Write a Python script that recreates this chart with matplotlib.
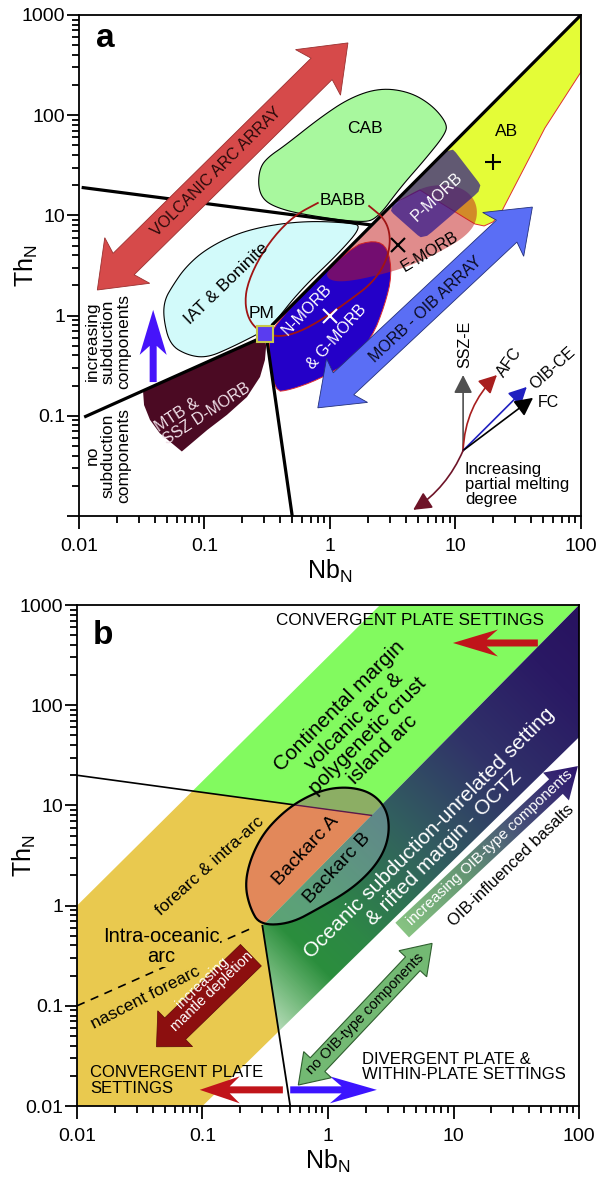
import numpy as np
import matplotlib
matplotlib.use("Agg")
import matplotlib.pyplot as plt
from matplotlib.patches import Polygon, FancyArrowPatch
from matplotlib.ticker import NullFormatter, LogLocator

plt.rcParams['font.family'] = ['Liberation Sans', 'DejaVu Sans']
plt.rcParams['mathtext.fontset'] = 'custom'
plt.rcParams['mathtext.rm'] = 'Liberation Sans'
plt.rcParams['mathtext.default'] = 'regular'

ticks = [0.01, 0.1, 1, 10, 100, 1000]
tick_labels = ['0.01', '0.1', '1', '10', '100', '1000']

# ---- panel a : lines and fields, all as (Nb_N, Th_N)
a_line_low = [(0.011, 0.097), (0.30, 0.62)]
a_line_up = [(0.345, 0.80), (100, 1000)]
a_line_steep = [(0.315, 0.56), (0.50, 0.01)]
a_line_flat = [(0.0105, 19), (2.16, 8.0)]
pm = (0.303, 0.655)

cab = [(0.267, 20), (0.277, 30), (0.32, 38), (0.44, 50), (0.83, 94), (1.44, 149),
       (2.5, 187), (4.3, 171), (6.5, 126), (8.5, 84), (8.4, 66), (5.7, 36),
       (3.6, 18.7), (2.4, 9.4), (1.8, 8.4), (0.58, 10.3), (0.365, 12.1), (0.29, 14.6)]
iat = [(0.047, 0.95), (0.048, 1.43), (0.056, 2.0), (0.070, 3.0), (0.10, 4.5),
       (0.175, 6.5), (0.33, 8.0), (0.69, 8.8), (1.44, 8.4), (1.8, 7.8), (1.2, 4.3),
       (0.58, 1.8), (0.345, 0.79), (0.27, 0.66), (0.16, 0.475), (0.105, 0.38),
       (0.074, 0.40), (0.053, 0.51)]
mtb = [(0.0324, 0.175), (0.30, 0.62), (0.31, 0.50), (0.303, 0.36), (0.277, 0.244),
       (0.218, 0.154), (0.151, 0.102), (0.105, 0.072), (0.066, 0.044), (0.044, 0.067),
       (0.0368, 0.091), (0.033, 0.128)]
nmorb = [(0.352, 0.806), (1.44, 4.84), (2.28, 5.68), (2.9, 4.73), (3.12, 2.54),
         (2.74, 1.28), (2.16, 0.60), (1.44, 0.344), (0.80, 0.228), (0.48, 0.181),
         (0.36, 0.173), (0.321, 0.509)]
emorb = [(0.929, 2.85), (2.74, 10.8), (5.02, 18.7), (8.24, 20.6), (11.9, 18.3),
         (14.8, 13.3), (14.8, 8.6), (11.9, 6.08), (7.52, 4.32), (4.34, 3.13),
         (2.5, 2.54), (1.32, 2.16), (0.964, 2.26)]
pmorb = [(2.9, 11.6), (9.2, 49), (16.6, 18.7), (5.5, 5.7)]
ab = [(100, 1000), (100, 270), (51.6, 74.5), (24.8, 12.7), (22.6, 10.1), (19.9, 8.6),
      (16.9, 7.84), (14.3, 8.2), (11.9, 9.42), (5.21, 17.9), (3.2, 13.1)]
babb = [(0.80, 13.3), (0.53, 10.1), (0.365, 6.4), (0.267, 3.6), (0.218, 2.0),
        (0.21, 1.28), (0.23, 0.86), (0.287, 0.67), (0.40, 0.61), (0.58, 0.69),
        (0.91, 0.95), (1.44, 1.43), (2.16, 2.1), (2.8, 3.4), (3.06, 5.7), (2.79, 9.0),
        (2.05, 12.4)]
ab_mean = (20, 34)
emorb_mean = (3.5, 5.1)
nmorb_mean = (1.0, 1.0)

volcanic_arrow = [(0.014, 1.8), (1.39, 526)]
morb_oib_arrow = [(0.80, 0.12), (41, 12.1)]
subduction_arrow = [(0.039, 0.217), (0.039, 1.14)]

vec_origin = (11.5, 0.045)
vec_ends = {'SSZ-E': (11.5, 0.255), 'AFC': (21.4, 0.255), 'OIB-CE': (37, 0.194),
            'FC': (41.5, 0.151), 'melt': (4.6, 0.0115)}

# ---- panel b : boundaries, all as (Nb_N, Th_N)
b_edge_up = [(0.01, 1.0), (2.6, 1000)]
b_edge_low = [(0.1, 0.01), (100, 48)]
b_diag = [(0.30, 0.63), (100, 1000)]
b_flat = [(0.01, 20), (2.21, 7.96)]
b_steep = [(0.30, 0.63), (0.50, 0.01)]
b_dash = [(0.01, 0.10), (0.25, 0.60)]
backarc = [(0.287, 0.64), (0.239, 0.95), (0.218, 1.6), (0.239, 2.85), (0.30, 5.1),
           (0.415, 8.0), (0.60, 11.3), (0.95, 14.6), (1.5, 15.3), (2.24, 13.3),
           (2.9, 9.4), (3.1, 5.9), (2.85, 3.6), (2.24, 2.26), (1.5, 1.43),
           (0.86, 0.95), (0.50, 0.66)]

top_red_arrow = [(47, 418), (9.9, 418)]
bot_red_arrow = [(0.437, 0.0145), (0.095, 0.0145)]
bot_blue_arrow = [(0.50, 0.0145), (2.45, 0.0145)]
depletion_arrow = [(0.243, 0.32), (0.043, 0.039)]
no_oib_arrow = [(0.58, 0.0162), (6.75, 0.42)]
oib_arrow = [(3.9, 0.57), (98, 24.7)]


def smooth(pts, n=3, cut=0.25, closed=True):
    p = np.log10(np.asarray(pts, float))
    for _ in range(n):
        if closed:
            q = np.roll(p, -1, axis=0)
            pp = p
        else:
            q = p[1:]
            pp = p[:-1]
        r = np.empty((2 * len(pp), 2))
        r[0::2] = (1 - cut) * pp + cut * q
        r[1::2] = cut * pp + (1 - cut) * q
        if not closed:
            r = np.vstack([p[0], r, p[-1]])
        p = r
    return 10 ** p


def cross(l1, l2):
    (x1, y1), (x2, y2) = np.log10(l1)
    (x3, y3), (x4, y4) = np.log10(l2)
    d = (x1 - x2) * (y3 - y4) - (y1 - y2) * (x3 - x4)
    t = ((x1 - x3) * (y3 - y4) - (y1 - y3) * (x3 - x4)) / d
    return (10 ** (x1 + t * (x2 - x1)), 10 ** (y1 + t * (y2 - y1)))


def arrow(ax, tail, tip, width, head_width, head_len, notch=0.0, double=False, **kw):
    # fat arrow built in pixels so it is not bent by the log axes
    p0 = ax.transData.transform(tail)
    p1 = ax.transData.transform(tip)
    d = p1 - p0
    u = d / np.hypot(*d)
    n = np.array([-u[1], u[0]])
    w, hw = width / 2, head_width / 2
    c1, j1 = p1 - u * head_len, p1 - u * head_len * (1 - notch)
    if double:
        c0, j0 = p0 + u * head_len, p0 + u * head_len * (1 - notch)
        pts = [p0, c0 + n * hw, j0 + n * w, j1 + n * w, c1 + n * hw, p1,
               c1 - n * hw, j1 - n * w, j0 - n * w, c0 - n * hw]
    else:
        pts = [p0 + n * w, j1 + n * w, c1 + n * hw, p1, c1 - n * hw, j1 - n * w, p0 - n * w]
    pts = ax.transAxes.inverted().transform(np.array(pts))
    patch = Polygon(pts, closed=True, transform=ax.transAxes, **kw)
    ax.add_patch(patch)
    return patch


def vec(ax, start, end, color, rad=0.0):
    ax.add_patch(FancyArrowPatch(start, end, connectionstyle="arc3,rad=%s" % rad,
                                 arrowstyle="-|>,head_length=0.55,head_width=0.28",
                                 mutation_scale=20, color=color, lw=1.2,
                                 shrinkA=0, shrinkB=0, zorder=5))


def gradient(pos, cols, t):
    cols = np.asarray(cols, float) / 255
    return np.dstack([np.interp(t, pos, cols[:, i]) for i in range(3)])


def setup(ax, ylabels):
    ax.set_xscale('log')
    ax.set_yscale('log')
    ax.set_xlim(0.01, 100)
    ax.set_ylim(0.01, 1000)
    ax.set_xticks(ticks[:5], labels=tick_labels[:5])
    ax.set_yticks(ticks, labels=ylabels)
    ax.xaxis.set_minor_locator(LogLocator(10, subs=np.arange(2, 10), numticks=50))
    ax.yaxis.set_minor_locator(LogLocator(10, subs=np.arange(2, 10), numticks=50))
    ax.xaxis.set_minor_formatter(NullFormatter())
    ax.yaxis.set_minor_formatter(NullFormatter())
    ax.tick_params(which='both', direction='out', width=1.3, top=False, right=False)
    ax.tick_params(which='major', length=9, labelsize=14)
    ax.tick_params(which='minor', length=5)
    ax.tick_params(axis='y', pad=1)
    ax.tick_params(axis='x', pad=7)
    for s in ax.spines.values():
        s.set_linewidth(1.3)
    ax.text(0.5, -0.11, 'Nb$_{N}$', transform=ax.transAxes, fontsize=18,
            ha='center', va='center')
    ax.text(-0.104, 0.5, 'Th$_{N}$', transform=ax.transAxes, fontsize=18,
            ha='center', va='center', rotation=90)


fig = plt.figure(figsize=(6.02, 11.78), dpi=100)
ax_a = fig.add_axes([0.1312, 0.5620, 0.8339, 0.4253])
ax_b = fig.add_axes([0.1279, 0.0611, 0.8339, 0.4253])
setup(ax_a, [''] + tick_labels[1:])
setup(ax_b, tick_labels)

# ================= panel a =================
ax = ax_a
ax.add_patch(Polygon(ab, closed=True, fc='#e4fc37', ec='#e03030', lw=0.7, zorder=1))
ax.add_patch(Polygon(smooth(cab), closed=True, fc='#a8f89e', ec='k', lw=0.8, zorder=1))
ax.add_patch(Polygon(smooth(iat), closed=True, fc='#d2fafa', ec='k', lw=0.8, zorder=1))
ax.add_patch(Polygon(mtb, closed=True, fc='#4b0a23', ec='none', zorder=1))
ax.add_patch(Polygon(smooth(nmorb, 2), closed=True, fc='#2400c8', ec='#e03030', lw=0.7, zorder=1.2))
ax.add_patch(Polygon(smooth(emorb), closed=True, fc=(0.76, 0.1, 0.1), alpha=0.5, ec='none', zorder=1.4))
ax.add_patch(Polygon(smooth(pmorb, 2, cut=0.08), closed=True, fc=(0.16, 0.08, 0.55), alpha=0.7,
                     ec='none', zorder=1.6))

for ln in (a_line_low, a_line_up, a_line_steep, a_line_flat):
    xs, ys = zip(*ln)
    ax.plot(xs, ys, color='k', lw=2.3, zorder=3, solid_capstyle='butt')
bx, by = smooth(babb, 3, closed=False).T
ax.plot(bx, by, color='#a01414', lw=1.3, zorder=3.2)
ax.plot(*pm, marker='s', ms=11, mfc='#5a3cf0', mec='#c8c84a', mew=1.5, zorder=4)

ax.plot(*ab_mean, marker='+', ms=12, mew=1.5, color='k', zorder=4)
ax.plot(*emorb_mean, marker='x', ms=10, mew=1.5, color='k', zorder=4)
ax.plot(*nmorb_mean, marker='x', ms=10, mew=1.5, color='w', zorder=4)

arrow(ax, *volcanic_arrow, 30, 64, 42, notch=0.12, double=True,
      fc='#d64a4a', ec='#9a3030', lw=0.6, zorder=3.5)
arrow(ax, *morb_oib_arrow, 30, 60, 40, notch=0.12, double=True,
      fc='#5a6ef5', ec='#23307a', lw=0.6, zorder=3.5)
arrow(ax, *subduction_arrow, 7, 27, 45, notch=0.2, fc='#4614fa', ec='none', zorder=3.5)

lbl = dict(ha='center', va='center', zorder=6)
ax.text(1.9, 74, 'CAB', fontsize=12.5, **lbl)
ax.text(25.7, 68, 'AB', fontsize=12.5, **lbl)
ax.text(1.27, 14.2, 'BABB', fontsize=12.5, **lbl)
ax.text(0.15, 2.1, 'IAT & Boninite', fontsize=12.5, rotation=44, **lbl)
ax.text(0.287, 1.06, 'PM', fontsize=12.5, **lbl)
ax.text(0.66, 1.14, 'N-MORB', fontsize=11.5, rotation=46, color='w', **lbl)
ax.text(1.14, 0.61, '& G-MORB', fontsize=11.5, rotation=48, color='w', **lbl)
ax.text(7.1, 15.3, 'P-MORB', fontsize=11.5, rotation=43, color='w', **lbl)
ax.text(6.3, 4.3, 'E-MORB', fontsize=11.5, rotation=31, **lbl)
ax.text(0.097, 0.122, 'MTB &\nSSZ D-MORB', fontsize=11.5, rotation=33, color='#f0e0e8',
        multialignment='left', linespacing=1.05, **lbl)
ax.text(0.124, 27, 'VOLCANIC ARC ARRAY', fontsize=11.5, rotation=44.7, color='#2a0a0a', **lbl)
ax.text(5.8, 1.14, 'MORB - OIB ARRAY', fontsize=11.5, rotation=43, color='#0a0a20', **lbl)
ax.text(0.017, 0.55, 'increasing\nsubduction\ncomponents', fontsize=12.5, rotation=90,
        linespacing=1.05, **lbl)
ax.text(0.017, 0.040, 'no\nsubduction\ncomponents', fontsize=12.5, rotation=90,
        linespacing=1.05, **lbl)

vec(ax, vec_origin, vec_ends['SSZ-E'], '#505050')
vec(ax, vec_origin, vec_ends['AFC'], '#a81e1e', rad=-0.2)
vec(ax, vec_origin, vec_ends['OIB-CE'], '#2020c0')
vec(ax, vec_origin, vec_ends['FC'], 'k')
vec(ax, vec_origin, vec_ends['melt'], '#6e1428', rad=-0.15)
ax.text(11.9, 0.52, 'SSZ-E', fontsize=11.5, rotation=90, **lbl)
ax.text(27, 0.34, 'AFC', fontsize=11.5, rotation=55, **lbl)
ax.text(60, 0.30, 'OIB-CE', fontsize=11.5, rotation=42, **lbl)
ax.text(45, 0.137, 'FC', fontsize=11.5, ha='left', va='center', zorder=6)
ax.text(11.9, 0.0204, 'Increasing\npartial melting\ndegree', fontsize=12, ha='left',
        va='center', linespacing=1.0, zorder=6)
ax.text(0.052, 0.954, 'a', transform=ax.transAxes, fontsize=24, fontweight='bold',
        ha='center', va='center')

# ================= panel b =================
ax = ax_b
p_uh = cross(b_edge_up, b_flat)
p_hd = cross(b_flat, b_diag)
p_sl = cross(b_steep, b_edge_low)
green_zone = [p_uh, b_edge_up[1], (100, 1000), p_hd]
yellow_zone = [(0.01, 0.01), b_edge_up[0], p_uh, p_hd, b_diag[0], p_sl, b_edge_low[0]]
ocean_zone = [b_diag[0], (100, 1000), b_edge_low[1], p_sl]

ax.add_patch(Polygon(green_zone, closed=True, fc='#82fa5f', ec='none', zorder=1))
ax.add_patch(Polygon(yellow_zone, closed=True, fc='#e9c94f', ec='none', zorder=1))
ocean_clip = Polygon(ocean_zone, closed=True, fc='none', ec='none', zorder=1)
ax.add_patch(ocean_clip)

gu, gv = np.meshgrid(np.linspace(0, 1, 400), np.linspace(0, 1, 400))
t = (gu + gv) / 2
rgb = gradient([0.30, 0.45, 0.60, 0.75, 0.90, 1.0],
               [(40, 150, 50), (45, 135, 70), (50, 95, 95), (48, 50, 105), (42, 25, 100), (40, 18, 95)], t)
img = np.dstack([rgb, np.clip((t - 0.22) / 0.16, 0, 1)])
im = ax.imshow(img, extent=(0, 1, 0, 1), transform=ax.transAxes, origin='lower',
               aspect='auto', interpolation='bilinear', zorder=1.5)
im.set_clip_path(ocean_clip)

# backarc field split by the two boundaries
ell = Polygon(smooth(backarc), closed=True, fc='none', ec='k', lw=1.6, zorder=4)
ax.add_patch(ell)
for zone, kw in ((yellow_zone, dict(fc='#e2885a')),
                 (green_zone, dict(fc='#8cae64')),
                 (ocean_zone, dict(fc=(0.65, 0.77, 0.8), alpha=0.4))):
    pz = Polygon(zone, closed=True, ec='none', zorder=2, **kw)
    ax.add_patch(pz)
    pz.set_clip_path(ell)

xs, ys = zip(*[b_flat[0], p_hd])
ax.plot(xs, ys, color='k', lw=1.2, zorder=1.8)
inner, = ax.plot(xs, ys, color='#5a1a4a', lw=1.0, zorder=2.5)
inner.set_clip_path(ell)
xs, ys = zip(*b_steep)
ax.plot(xs, ys, color='k', lw=1.3, zorder=3)
xs, ys = zip(*b_dash)
ax.plot(xs, ys, color='k', lw=1.2, ls=(0, (5, 4)), zorder=3)

arrow(ax, *top_red_arrow, 7, 27, 45, notch=0.25, fc='#c0141a', ec='none', zorder=5)
arrow(ax, *bot_red_arrow, 7, 27, 40, notch=0.25, fc='#c0141a', ec='none', zorder=5)
arrow(ax, *bot_blue_arrow, 7, 27, 47, notch=0.25, fc='#3c14ff', ec='none', zorder=5)
arrow(ax, *depletion_arrow, 30, 50, 26, fc='#8c0f0f', ec='#5a0808', lw=0.5, zorder=5)
arrow(ax, *no_oib_arrow, 20, 38, 28, double=True, fc='#73b973', ec='#2f5f2f', lw=0.8, zorder=5)

oib = arrow(ax, *oib_arrow, 20, 38, 30, fc='none', ec='none', zorder=5)
u0, v0 = ax.transAxes.inverted().transform(ax.transData.transform(oib_arrow[0]))
u1, v1 = ax.transAxes.inverted().transform(ax.transData.transform(oib_arrow[1]))
s = ((gu - u0) * (u1 - u0) + (gv - v0) * (v1 - v0)) / ((u1 - u0) ** 2 + (v1 - v0) ** 2)
rgb2 = gradient([0.0, 0.35, 0.65, 1.0],
                [(135, 195, 130), (100, 150, 115), (70, 80, 120), (45, 20, 110)], s)
im2 = ax.imshow(rgb2, extent=(0, 1, 0, 1), transform=ax.transAxes, origin='lower',
                aspect='auto', interpolation='bilinear', zorder=5)
im2.set_clip_path(oib)

ax.text(1.83, 59, 'Continental margin\nvolcanic arc &\npolygenetic crust\nisland arc',
        fontsize=15, rotation=45, linespacing=1.1, **lbl)
ax.text(7.3, 4.5, 'Oceanic subduction-unrelated setting\n& rifted margin - OCTZ',
        fontsize=15, rotation=45, color='w', linespacing=1.1, **lbl)
ax.text(0.67, 3.5, 'Backarc A', fontsize=14, rotation=47, **lbl)
ax.text(1.18, 2.37, 'Backarc B', fontsize=14, rotation=47, **lbl)
ax.text(0.115, 2.5, 'forearc & intra-arc', fontsize=12.5, rotation=42, **lbl)
ax.text(0.047, 0.39, 'Intra-oceanic\narc', fontsize=14.5, linespacing=1.05,
        bbox=dict(fc='#e9c94f', ec='none', pad=0.5), **lbl)
ax.text(0.035, 0.12, 'nascent forearc', fontsize=12.5, rotation=27, **lbl)
ax.text(0.109, 0.154, 'increasing\nmantle depletion', fontsize=10.5, rotation=44,
        color='w', linespacing=0.95, **lbl)
ax.text(0.0127, 0.018, 'CONVERGENT PLATE\nSETTINGS', fontsize=12, ha='left', va='center',
        linespacing=1.05, zorder=6)
ax.text(1.87, 0.0245, 'DIVERGENT PLATE &\nWITHIN-PLATE SETTINGS', fontsize=12,
        ha='left', va='center', linespacing=1.05, zorder=6)
ax.text(4.5, 708, 'CONVERGENT PLATE SETTINGS', fontsize=12.3, **lbl)
ax.text(1.97, 0.083, 'no OIB-type components', fontsize=10.5, rotation=46, **lbl)
ax.text(19.5, 3.75, 'increasing OIB-type components', fontsize=11, rotation=43,
        color='w', **lbl)
ax.text(29, 2.5, 'OIB-influenced basalts', fontsize=12, rotation=44, **lbl)
ax.text(0.052, 0.94, 'b', transform=ax.transAxes, fontsize=24, fontweight='bold',
        ha='center', va='center')

for a in (ax_a, ax_b):
    a.set_xlim(0.01, 100)
    a.set_ylim(0.01, 1000)

fig.savefig('out.png', dpi=100)
